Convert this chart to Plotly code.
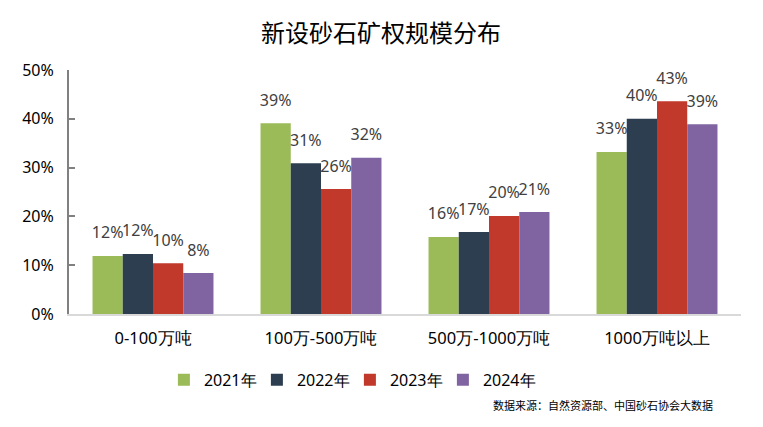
import plotly.graph_objects as go

categories = ["0-100万吨", "100万-500万吨", "500万-1000万吨", "1000万吨以上"]
years = ["2021年", "2022年", "2023年", "2024年"]
values_2021 = [11.9, 39.1, 15.8, 33.2]
values_2022 = [12.3, 30.9, 16.8, 40.0]
values_2023 = [10.4, 25.6, 20.1, 43.6]
values_2024 = [8.4, 32.0, 20.9, 38.9]
labels_2021 = ["12%", "39%", "16%", "33%"]
labels_2022 = ["12%", "31%", "17%", "40%"]
labels_2023 = ["10%", "26%", "20%", "43%"]
labels_2024 = ["8%", "32%", "21%", "39%"]
colors = ["#9BBB59", "#2C3E50", "#C0392B", "#8064A2"]

series = [values_2021, values_2022, values_2023, values_2024]
labels = [labels_2021, labels_2022, labels_2023, labels_2024]

fig = go.Figure()
for i, (name, vals, col) in enumerate(zip(years, series, colors)):
    fig.add_trace(go.Bar(x=categories, y=vals, name=name, marker_color=col,
                         offsetgroup=str(i), marker_line_width=0))
for i, (vals, labs) in enumerate(zip(series, labels)):
    fig.add_trace(go.Scatter(x=categories, y=vals, text=labs, mode="markers+text",
                             textposition="top center", offsetgroup=str(i),
                             marker=dict(size=20, opacity=0), showlegend=False,
                             hoverinfo="skip", cliponaxis=False,
                             textfont=dict(size=16, color="#404040", family="Noto Sans")))

fig.update_layout(
    width=763, height=427,
    margin=dict(l=61, r=30, t=62, b=121, autoexpand=False),
    paper_bgcolor="white", plot_bgcolor="white",
    barmode="group", scattermode="group", bargap=0.28, bargroupgap=0,
    font=dict(family="Noto Sans", size=15, color="#000000"),
    title=dict(text="新设砂石矿权规模分布", x=0.489, xanchor="center", y=0.941, yanchor="middle",
               font=dict(family="Noto Sans CJK SC", size=24, color="#000000")),
    legend=dict(orientation="h", x=0.418, xanchor="center", y=-0.2, yanchor="top",
                font=dict(size=16, family="Noto Sans"), itemwidth=30,
                traceorder="normal", entrywidth=48),
    xaxis=dict(showline=True, linecolor="#D9D9D9", linewidth=2, ticks="outside",
               ticklen=8, tickcolor="rgba(0,0,0,0)",
               tickfont=dict(size=16.5, family="Noto Sans")),
    yaxis=dict(range=[0, 50], dtick=10, ticksuffix="%", showgrid=False, zeroline=False,
               showline=True, linecolor="#808080", linewidth=2, ticks="inside",
               ticklen=6, tickcolor="#808080", tickwidth=2, ticklabelstandoff=10,
               tickfont=dict(size=16, family="Noto Sans")),
)
fig.add_annotation(text="数据来源：自然资源部、中国砂石协会大数据", xref="paper", yref="paper",
                   x=0.961, y=-0.373, xanchor="right", yanchor="middle", showarrow=False,
                   font=dict(size=11, family="Noto Sans CJK SC", color="#000000"))
fig.write_html("out.html")
